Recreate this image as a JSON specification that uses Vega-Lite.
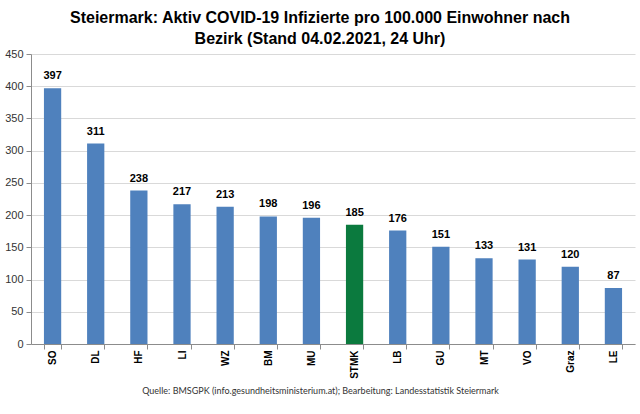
{
  "$schema": "https://vega.github.io/schema/vega-lite/v6.json",
  "width": 604,
  "height": 290,
  "autosize": {"type": "none"},
  "padding": {"left": 31, "top": 54, "right": 5, "bottom": 70},
  "background": "white",
  "title": {
    "text": ["Steiermark: Aktiv COVID-19 Infizierte pro 100.000 Einwohner nach", "Bezirk (Stand 04.02.2021, 24 Uhr)"],
    "font": "Liberation Sans",
    "fontSize": 16,
    "fontWeight": "bold",
    "color": "#000000",
    "anchor": "middle",
    "dx": -13,
    "offset": 1,
    "lineHeight": 21
  },
  "data": {
    "values": [
      {"bezirk": "SO", "wert": 397},
      {"bezirk": "DL", "wert": 311},
      {"bezirk": "HF", "wert": 238},
      {"bezirk": "LI", "wert": 217},
      {"bezirk": "WZ", "wert": 213},
      {"bezirk": "BM", "wert": 198},
      {"bezirk": "MU", "wert": 196},
      {"bezirk": "STMK", "wert": 185},
      {"bezirk": "LB", "wert": 176},
      {"bezirk": "GU", "wert": 151},
      {"bezirk": "MT", "wert": 133},
      {"bezirk": "VO", "wert": 131},
      {"bezirk": "Graz", "wert": 120},
      {"bezirk": "LE", "wert": 87}
    ]
  },
  "encoding": {
    "x": {
      "field": "bezirk",
      "type": "nominal",
      "sort": null,
      "scale": {"paddingInner": 0.6, "paddingOuter": 0.3},
      "axis": {
        "title": "Quelle: BMSGPK (info.gesundheitsministerium.at); Bearbeitung: Landesstatistik Steiermark",
        "titleFont": "Lato",
        "titleFontSize": 9,
        "titleFontWeight": "normal",
        "titleColor": "#333333",
        "titlePadding": 8,
        "titleX": 289,
        "labelAngle": -90,
        "labelFont": "Liberation Sans",
        "labelFontSize": 10,
        "labelFontWeight": "bold",
        "labelColor": "#000000",
        "labelPadding": 1,
        "domainColor": "#8c8c8c",
        "tickColor": "#8c8c8c",
        "tickBand": "extent",
        "tickSize": 5
      }
    },
    "y": {
      "field": "wert",
      "type": "quantitative",
      "scale": {"domain": [0, 450], "nice": false},
      "axis": {
        "title": null,
        "values": [0, 50, 100, 150, 200, 250, 300, 350, 400, 450],
        "labelFont": "Liberation Sans",
        "labelFontSize": 11,
        "labelColor": "#333333",
        "labelPadding": 3,
        "domainColor": "#8c8c8c",
        "tickColor": "#8c8c8c",
        "tickSize": 5,
        "gridColor": "#d9d9d9"
      }
    }
  },
  "layer": [
    {
      "mark": {"type": "bar"},
      "encoding": {
        "color": {
          "condition": {"test": "datum.bezirk === 'STMK'", "value": "#0B7A3E"},
          "value": "#4F81BD"
        }
      }
    },
    {
      "mark": {
        "type": "text",
        "font": "Liberation Sans",
        "fontSize": 11,
        "fontWeight": "bold",
        "color": "#000000",
        "baseline": "alphabetic",
        "dy": -9
      },
      "encoding": {"text": {"field": "wert", "type": "quantitative"}}
    }
  ],
  "config": {"view": {"stroke": null}}
}
